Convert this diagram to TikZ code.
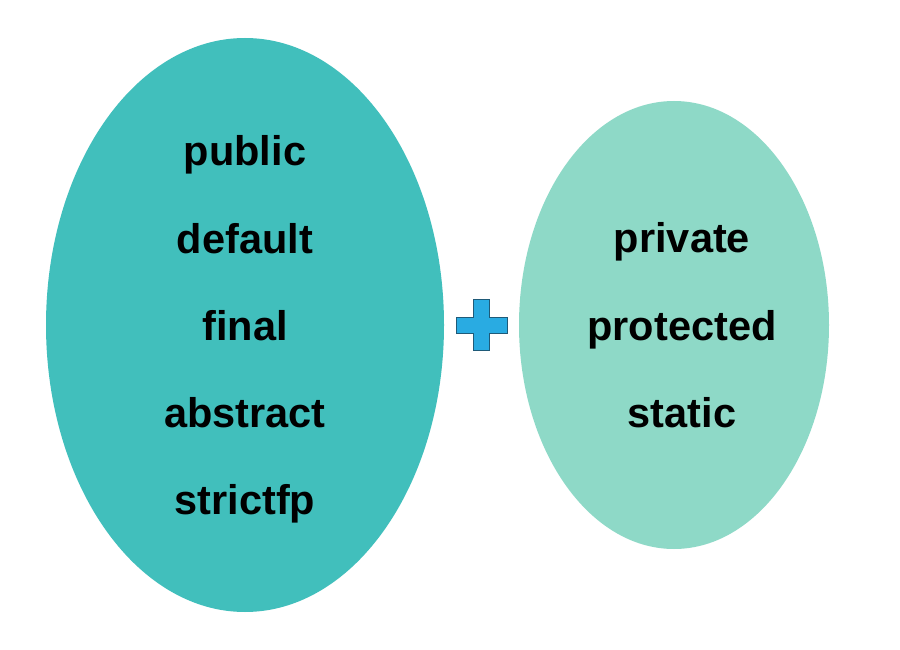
\documentclass[tikz,border=0pt]{standalone}
\usepackage{fontspec}
\setmainfont{Liberation Sans}
\definecolor{leftc}{HTML}{41BFBC}
\definecolor{rightc}{HTML}{8ED9C7}
\definecolor{plusc}{HTML}{29ABE2}
\definecolor{plusedge}{HTML}{1F5A78}
\begin{document}
\begin{tikzpicture}[x=1pt,y=-1pt,
  word/.style={anchor=base,font=\fontsize{41.5}{41.5}\selectfont\bfseries,text=black,inner sep=0pt}]
\useasboundingbox (0,0) rectangle (900,650);
\fill[white] (0,0) rectangle (900,650);
\fill[leftc] (245,325) ellipse [x radius=199, y radius=287];
\fill[rightc] (674,325) ellipse [x radius=155, y radius=224];
\draw[fill=plusc,draw=plusedge,line width=1pt]
  (473,299) -- (489,299) -- (489,317) -- (507,317) -- (507,333) -- (489,333)
  -- (489,350) -- (473,350) -- (473,333) -- (456,333) -- (456,317) -- (473,317) -- cycle;
\node[word] (w1) at (245,166) {public};
\node[word] (w2) at (245,253) {default};
\node[word] (w3) at (245,340) {final};
\node[word] (w4) at (245,427) {abstract};
\node[word] (w5) at (245,514) {strictfp};
\node[word] (r1) at (682,252) {private};
\node[word] (r2) at (682,340) {protected};
\node[word] (r3) at (682,427) {static};
\end{tikzpicture}
\end{document}
